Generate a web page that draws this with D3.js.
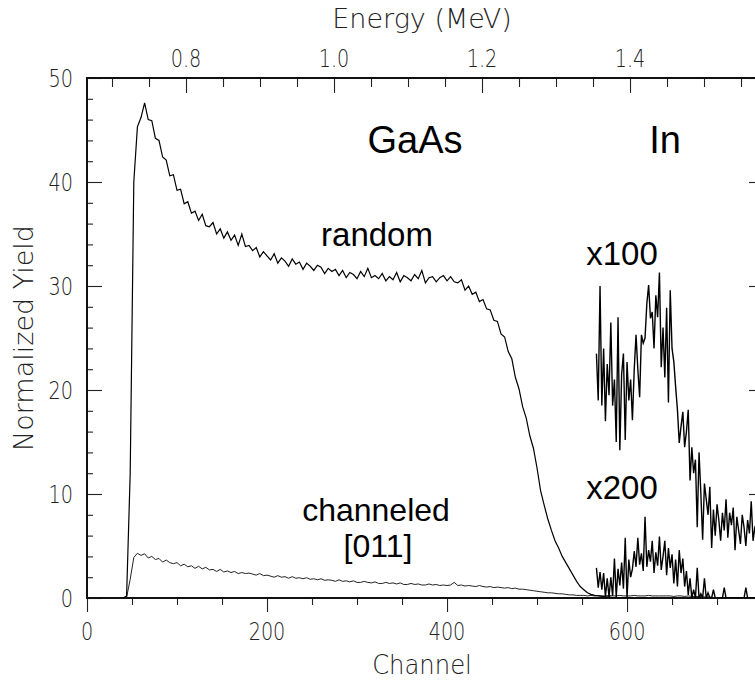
<!DOCTYPE html>
<html>
<head>
<meta charset="utf-8">
<script src="https://cdn.jsdelivr.net/npm/d3@7"></script>
<style>
  html, body { margin: 0; padding: 0; background: #fff; }
  svg { display: block; }
</style>
</head>
<body>
<svg id="chart" width="755" height="682"></svg>
<script>
// RBS spectra of In-doped GaAs: random and [011] channeled yields,
// plus the In signal magnified x100 (random) and x200 (channeled).

// GaAs spectra, sampled every 4 channels starting at channel 40
const gaasStartChannel = 40;
const gaasChannelStep = 4;
const randomYield = [
  0, 0.2, 12, 40, 45.3, 46.2, 47.6, 46.0, 45.9, 44.2,
  44.0, 42.4, 42.1, 40.6, 40.7, 39.2, 39.3, 37.9, 38.1, 37.0,
  37.2, 36.3, 36.9, 35.8, 35.7, 36.1, 35.0, 35.5, 34.6, 35.2,
  34.4, 34.9, 33.9, 35.0, 33.8, 33.9, 33.4, 33.7, 32.8, 33.3,
  32.9, 32.5, 33.1, 32.2, 32.7, 32.4, 31.9, 32.6, 32.1, 32.3,
  31.6, 32.2, 31.9, 31.5, 32.0, 31.8, 31.2, 31.7, 31.4, 31.6,
  31.0, 31.5, 30.8, 31.3, 31.1, 30.7, 31.4, 30.9, 31.7, 30.8,
  31.0, 30.7, 31.2, 30.5, 30.9, 30.6, 31.3, 30.4, 31.0, 30.8,
  30.5, 31.1, 30.7, 31.5, 30.3, 30.8, 30.9, 30.4, 30.8, 31.0,
  30.5, 30.9, 30.4, 30.3, 30.6, 29.6, 30.0, 29.2, 29.4, 28.5,
  28.7, 27.8, 27.7, 26.7, 26.6, 25.4, 25.1, 23.7, 23.0, 21.2,
  20.1, 18.4, 17.3, 15.6, 14.4, 12.5, 10.3, 8.9, 7.6, 6.5,
  5.5, 4.8, 4.0, 3.4, 2.8, 2.2, 1.6, 1.1, 0.8, 0.5,
  0.35, 0.25, 0.2, 0.15, 0.1, 0.1, 0.05, 0.05, 0, 0, 0
];
const channeledYield = [
  0, 0.05, 1.8, 3.9, 4.3, 4.1, 4.25, 3.85, 4.0, 3.7,
  3.8, 3.45, 3.65, 3.4, 3.3, 3.4, 3.1, 3.25, 3.0, 3.1,
  2.85, 3.05, 2.8, 2.95, 2.7, 2.75, 2.55, 2.75, 2.5, 2.6,
  2.45, 2.55, 2.35, 2.45, 2.35, 2.4, 2.3, 2.2, 2.35, 2.15,
  2.2, 2.1, 2.0, 2.15, 2.0, 2.05, 1.9, 2.05, 1.9, 1.95,
  1.85, 1.95, 1.8, 1.85, 1.75, 1.85, 1.7, 1.75, 1.7, 1.6,
  1.75, 1.6, 1.65, 1.55, 1.65, 1.5, 1.5, 1.6, 1.5, 1.45,
  1.55, 1.4, 1.4, 1.5, 1.4, 1.45, 1.35, 1.45, 1.3, 1.3,
  1.4, 1.3, 1.35, 1.25, 1.25, 1.35, 1.25, 1.3, 1.2, 1.25,
  1.2, 1.25, 1.5, 1.2, 1.25, 1.15, 1.2, 1.15, 1.1, 1.2,
  1.1, 1.05, 1.1, 1.0, 1.05, 1.0, 0.95, 1.0, 0.9, 0.95,
  0.85, 0.85, 0.8, 0.75, 0.7, 0.65, 0.6, 0.55, 0.5, 0.5,
  0.45, 0.4, 0.4, 0.35, 0.3, 0.3, 0.25, 0.25, 0.25, 0.2,
  0.25, 0.2, 0.25, 0.2, 0.2, 0.25, 0.2, 0.2, 0.25, 0.2,
  0.2, 0.2, 0.25, 0.2, 0.2, 0.2, 0.25, 0.2, 0.2, 0.2,
  0.2, 0.2, 0.2, 0.15, 0.2, 0.2, 0.15, 0.2, 0.15, 0.15,
  0.15, 0.1, 0.1, 0.1, 0.05, 0, 0
];

// In signal, sampled every 2 channels starting at channel 566
const inStartChannel = 566;
const inChannelStep = 2;
const inRandomX100 = [
  23.5, 19.0, 30.0, 18.5, 24.0, 17.0, 22.5, 19.5, 26.5, 18.5,
  21.0, 15.0, 27.0, 14.2, 21.5, 23.5, 15.2, 22.7, 19.0, 21.0,
  17.1, 22.0, 25.3, 22.0, 19.3, 25.3, 24.5, 25.0, 28.3, 30.1,
  26.9, 27.5, 24.0, 29.1, 27.0, 31.3, 22.2, 26.0, 21.2, 27.9,
  18.8, 29.6, 24.0, 22.7, 20.3, 18.1, 14.9, 16.5, 17.9, 14.5,
  16.0, 18.1, 11.3, 14.5, 12.0, 13.3, 6.8, 14.0, 10.1, 5.6,
  11.0, 9.5, 8.0, 10.7, 4.8, 8.5, 6.0, 9.0, 7.5, 5.5,
  8.2, 6.5, 9.5, 5.8, 8.2, 7.0, 8.7, 4.6, 7.8, 6.5,
  5.2, 8.0, 6.8, 5.0, 7.5, 6.2, 9.3, 5.5, 6.8, 7.2
];
const inChanneledX200 = [
  2.9, 1.0, 2.5, 0.8, 2.4, 0.1, 1.9, 0.1, 2.0, 0.2,
  3.8, 0.1, 2.8, 1.2, 3.4, 0.9, 5.8, 0.0, 3.7, 2.0,
  2.8, 4.5, 3.0, 5.8, 3.2, 4.3, 2.6, 7.8, 3.0, 4.6,
  3.5, 5.5, 2.4, 4.4, 3.1, 5.9, 2.7, 4.0, 5.5, 2.2,
  4.8, 2.9, 4.2, 1.4, 3.7, 1.1, 4.6, 2.4, 3.8, 1.1,
  2.6, 0.3, 1.9, 0.0, 0.8, 0.0, 2.9, 0.0, 0.4, 0.0,
  1.9, 0.0, 0.5, 0.0, 0.0, 0.8, 0.0, 0.0, 0.0, 0.0,
  0.0, 1.0, 0.0, 0.0, 0.0, 0.0, 0.0, 0.0, 0.0, 0.0,
  0.0, 0.0, 0.0, 1.0, 0.0, 0.0, 0.0, 0.0, 0.0, 0.0
];

// Axis ticks
const channelTicks = [0, 200, 400, 600];
const channelMinorTicks = [50, 100, 150, 250, 300, 350, 450, 500, 550, 650, 700];
const energyTicks = [0.8, 1.0, 1.2, 1.4];
const energyMinorTicks = [0.7, 0.75, 0.85, 0.9, 0.95, 1.05, 1.1, 1.15, 1.25, 1.3, 1.35, 1.45, 1.5, 1.55];
const yieldTicks = [0, 10, 20, 30, 40, 50];
const yieldMinorTicks = [2, 4, 6, 8, 12, 14, 16, 18, 22, 24, 26, 28, 32, 34, 36, 38, 42, 44, 46, 48];

// Text
const labels = {
  xTitle: "Channel",
  yTitle: "Normalized Yield",
  topTitle: "Energy (MeV)",
  gaas: "GaAs",
  indium: "In",
  random: "random",
  channeled: "channeled",
  axis: "[011]",
  x100: "x100",
  x200: "x200"
};

// ---- layout ----
const margin = { left: 87, right: 757, top: 78, bottom: 598 };
const svg = d3.select("#chart");

const x = d3.scaleLinear().domain([0, 744.4]).range([margin.left, margin.right]);
const xEnergy = d3.scaleLinear().domain([0.6662, 1.5716]).range([margin.left, margin.right]);
const y = d3.scaleLinear().domain([0, 50]).range([margin.bottom, margin.top]);

const axisFont = "'DejaVu Sans', sans-serif";
const labelFont = "'Liberation Sans', Arial, sans-serif";

svg.append("defs").append("clipPath").attr("id", "plot-clip")
  .append("rect")
  .attr("x", margin.left).attr("y", margin.top)
  .attr("width", margin.right - margin.left).attr("height", margin.bottom - margin.top);

// ---- ticks ----
function tickGroup(axis, tx, ty) {
  const g = svg.append("g").attr("transform", `translate(${tx},${ty})`).call(axis);
  g.select(".domain").remove();
  g.selectAll("line").attr("stroke", "#222").attr("stroke-width", 1.1);
  g.selectAll("text").remove();
  return g;
}
// bottom: outward
tickGroup(d3.axisBottom(x).tickValues(channelMinorTicks).tickSize(7), 0, margin.bottom);
tickGroup(d3.axisBottom(x).tickValues(channelTicks).tickSize(14), 0, margin.bottom);
// top: inward
tickGroup(d3.axisTop(xEnergy).tickValues(energyMinorTicks).tickSize(-9), 0, margin.top);
tickGroup(d3.axisTop(xEnergy).tickValues(energyTicks).tickSize(-15), 0, margin.top);
// left: inward
tickGroup(d3.axisLeft(y).tickValues(yieldMinorTicks).tickSize(-6), margin.left, 0);
tickGroup(d3.axisLeft(y).tickValues(yieldTicks).tickSize(-15), margin.left, 0);
// right: inward, major only
tickGroup(d3.axisRight(y).tickValues(yieldTicks).tickSize(-8), margin.right, 0);

// ---- frame ----
const frame = svg.append("g").attr("stroke", "#111").attr("fill", "none");
frame.append("line").attr("x1", margin.left).attr("x2", margin.right + 2)
  .attr("y1", margin.top).attr("y2", margin.top).attr("stroke-width", 1.8);
frame.append("line").attr("x1", margin.left).attr("x2", margin.right + 2)
  .attr("y1", margin.bottom).attr("y2", margin.bottom).attr("stroke-width", 2);
frame.append("line").attr("x1", margin.left).attr("x2", margin.left)
  .attr("y1", margin.top - 1).attr("y2", margin.bottom + 1).attr("stroke-width", 2);
frame.append("line").attr("x1", margin.right).attr("x2", margin.right)
  .attr("y1", margin.top).attr("y2", margin.bottom).attr("stroke-width", 2);

// ---- tick labels (thin, narrow lettering) ----
function axisText(sel, size, squeeze) {
  return sel.attr("font-family", axisFont).attr("font-weight", 200)
    .attr("font-size", size).attr("fill", "#222")
    .attr("transform", d => `translate(${d.tx},${d.ty}) scale(${squeeze},1)`);
}
axisText(svg.append("g").selectAll("text")
  .data(channelTicks.map(v => ({ v, tx: x(v), ty: 640 })))
  .join("text").attr("text-anchor", "middle").text(d => d.v), 24, 0.8);
axisText(svg.append("g").selectAll("text")
  .data(energyTicks.map(v => ({ v, tx: xEnergy(v), ty: 67 })))
  .join("text").attr("text-anchor", "middle").text(d => d.v.toFixed(1)), 24, 0.8);
axisText(svg.append("g").selectAll("text")
  .data(yieldTicks.map(v => ({ v, tx: 73, ty: y(v) + 8.5 })))
  .join("text").attr("text-anchor", "end").text(d => d.v), 24, 0.8);

// axis titles
const titleSize = 27;
function title(text, transform) {
  svg.append("text").attr("font-family", axisFont).attr("font-weight", 200)
    .attr("font-size", titleSize).attr("fill", "#222").attr("text-anchor", "middle")
    .attr("transform", transform).text(text);
}
const midX = (margin.left + margin.right) / 2;
const midY = (margin.top + margin.bottom) / 2;
title(labels.xTitle, `translate(${midX},674) scale(0.9,1)`);
title(labels.topTitle, `translate(${midX},28) scale(1,1)`);
title(labels.yTitle, `translate(33,${midY}) rotate(-90) scale(1,1)`);

// ---- spectra ----
const plot = svg.append("g").attr("clip-path", "url(#plot-clip)").attr("fill", "none");
const gaasLine = d3.line()
  .x((d, i) => x(gaasStartChannel + i * gaasChannelStep))
  .y(d => y(d));
const inLine = d3.line()
  .x((d, i) => x(inStartChannel + i * inChannelStep))
  .y(d => y(d));

plot.append("path").datum(channeledYield).attr("d", gaasLine)
  .attr("stroke", "#222").attr("stroke-width", 1);
plot.append("path").datum(randomYield).attr("d", gaasLine)
  .attr("stroke", "#000").attr("stroke-width", 1.2);
plot.append("path").datum(inChanneledX200).attr("d", inLine)
  .attr("stroke", "#000").attr("stroke-width", 1.4);
plot.append("path").datum(inRandomX100).attr("d", inLine)
  .attr("stroke", "#000").attr("stroke-width", 1.4);

// ---- annotations ----
const notes = [
  { text: labels.gaas, cx: 415, by: 153, size: 38 },
  { text: labels.indium, cx: 665, by: 153, size: 38 },
  { text: labels.random, cx: 377, by: 246, size: 33 },
  { text: labels.x100, cx: 622, by: 265, size: 33 },
  { text: labels.x200, cx: 622, by: 499, size: 33 },
  { text: labels.channeled, cx: 376, by: 521, size: 32 },
  { text: labels.axis, cx: 378, by: 557, size: 32 }
];
svg.append("g").selectAll("text").data(notes).join("text")
  .attr("font-family", labelFont).attr("font-size", d => d.size)
  .attr("fill", "#000").attr("text-anchor", "middle")
  .attr("x", d => d.cx).attr("y", d => d.by)
  .text(d => d.text);
</script>
</body>
</html>
